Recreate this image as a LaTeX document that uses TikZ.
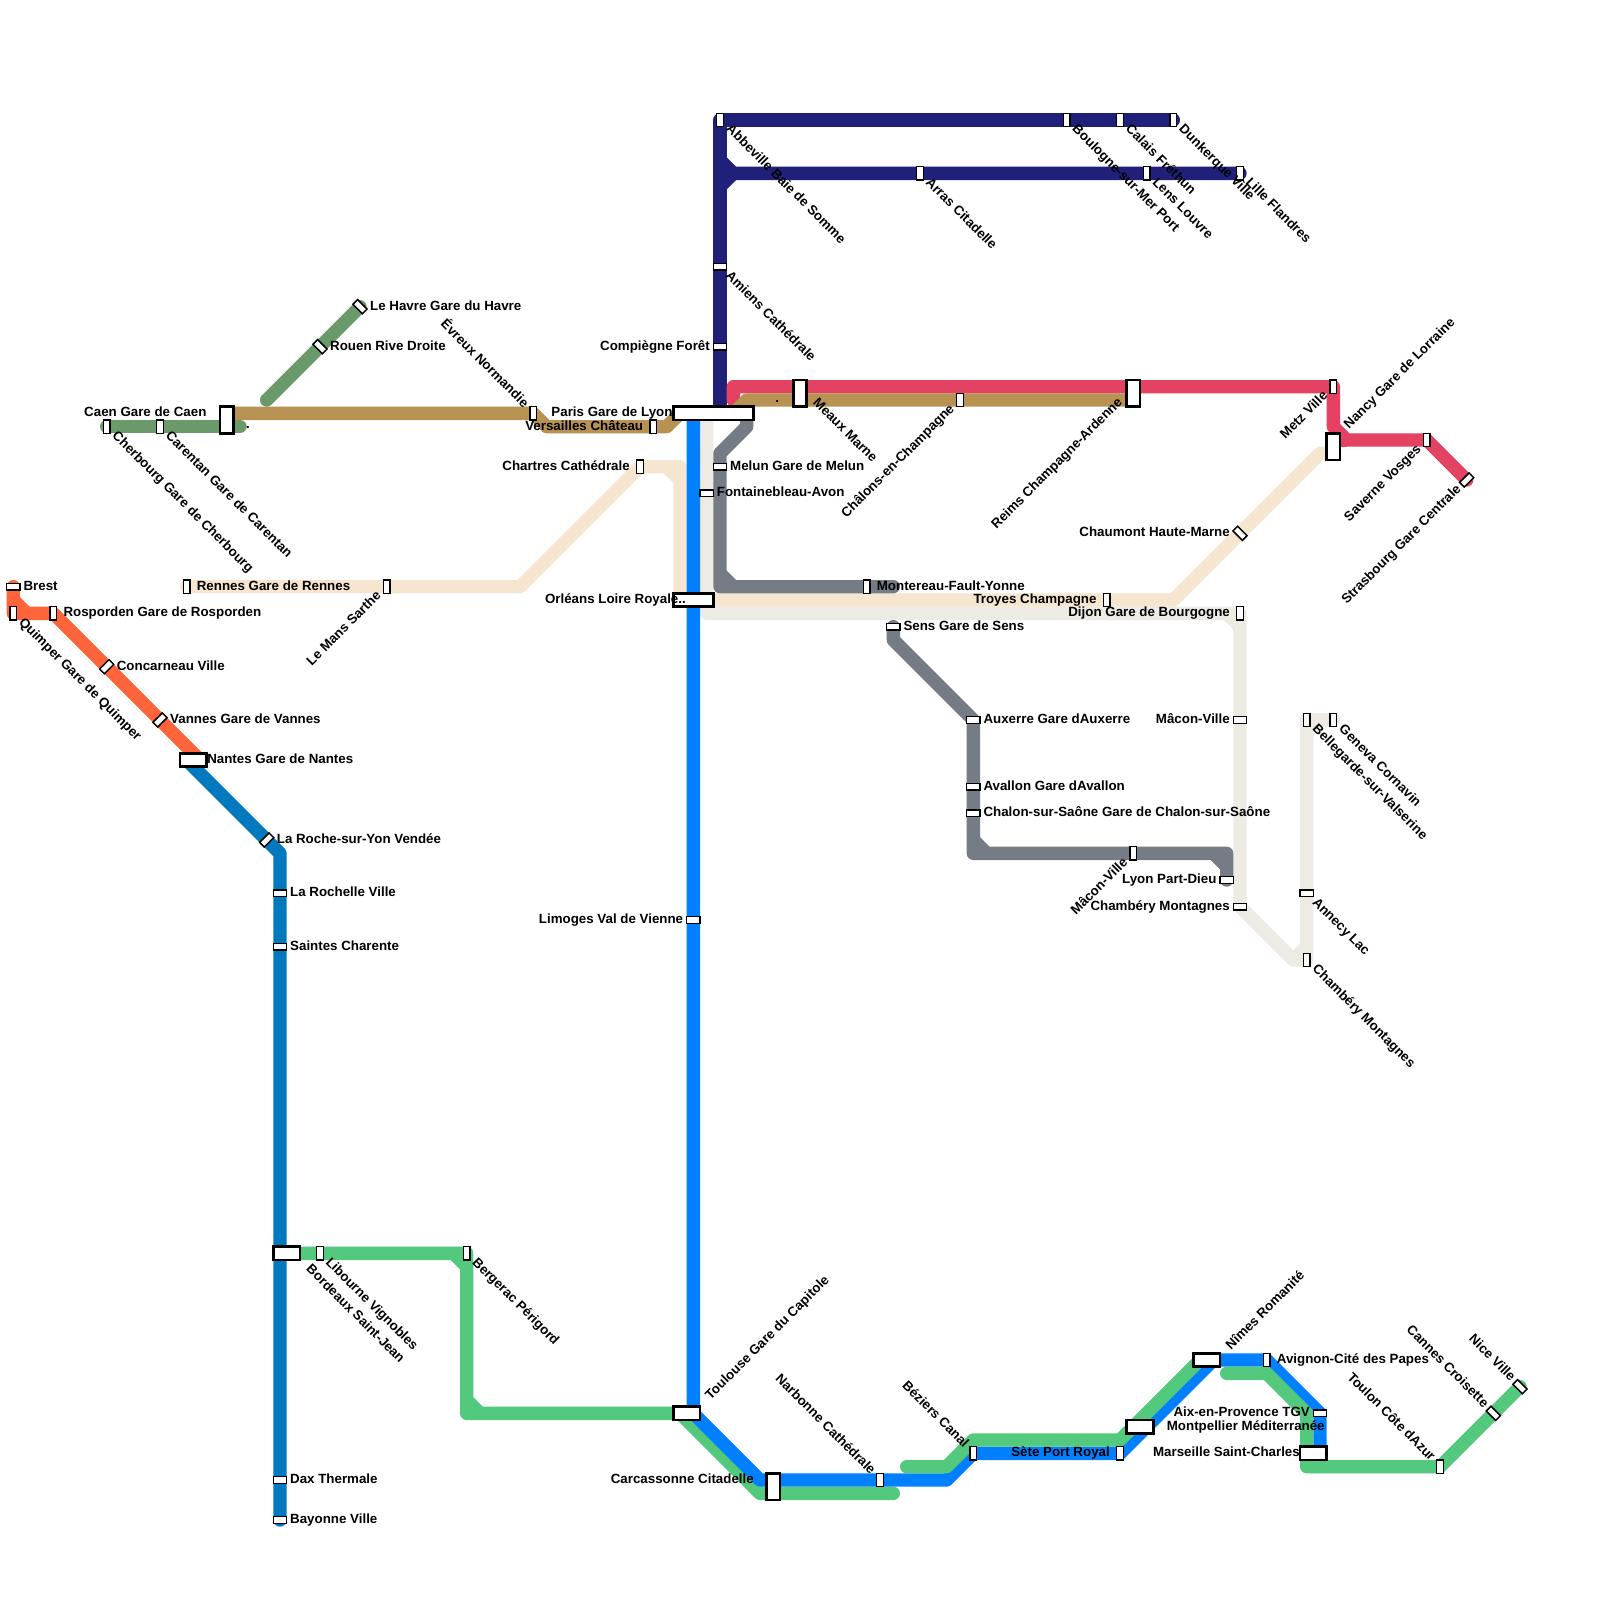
\documentclass[tikz,border=0pt]{standalone}
\usepackage{fontspec}
\setmainfont{Liberation Sans}
\pgfdeclarelayer{lines}
\pgfsetlayers{lines,main}
\definecolor{cnavy}{HTML}{20207A}
\definecolor{cred}{HTML}{E34262}
\definecolor{cbrown}{HTML}{B89253}
\definecolor{cdgreen}{HTML}{6A9A69}
\definecolor{corange}{HTML}{FF643A}
\definecolor{cdblue}{HTML}{0278BE}
\definecolor{cblue}{HTML}{0080FF}
\definecolor{clgreen}{HTML}{52C97C}
\definecolor{cbeige}{HTML}{F6E6CF}
\definecolor{clgrey}{HTML}{EEEBE4}
\definecolor{cgrey}{HTML}{767C86}
\tikzset{
  x=13.3333pt,y=-13.3333pt,
  stbase/.style={draw=black,fill=white,line width=1.5pt,inner sep=0pt,outer sep=0pt},
  stTall/.style={stbase,minimum width=6.67pt,minimum height=13.33pt},
  stWide/.style={stbase,minimum width=13.33pt,minimum height=6.67pt},
  stUp/.style={stWide,rotate=45},
  stDown/.style={stWide,rotate=-45},
  hub/.style={draw=black,fill=white,line width=2.8pt,inner sep=0pt,outer sep=0pt},
  hubTall/.style={hub,minimum width=13.33pt,minimum height=26.67pt},
  hubWide/.style={hub,minimum width=26.67pt,minimum height=13.33pt},
  lab/.style={font=\bfseries\fontsize{13.33pt}{15pt}\selectfont,inner sep=0pt,text height=9.6pt,text depth=2.8pt,text=black},
  track/.style={line width=13.33pt,line cap=round,line join=round},
}
\newcommand\lE[3][.75,0]{\node[lab,anchor=west] (#2-l) at ([shift={(#1)}]#2.center) {#3};}
\newcommand\lW[3][-.75,0]{\node[lab,anchor=east] (#2-l) at ([shift={(#1)}]#2.center) {#3};}
\newcommand\lSE[3][.55,.55]{\node[lab,anchor=west,rotate=-45] (#2-l) at ([shift={(#1)}]#2.center) {#3};}
\newcommand\lNW[3][-.55,-.55]{\node[lab,anchor=east,rotate=-45] (#2-l) at ([shift={(#1)}]#2.center) {#3};}
\newcommand\lSW[3][-.55,.55]{\node[lab,anchor=east,rotate=45] (#2-l) at ([shift={(#1)}]#2.center) {#3};}
\newcommand\lNE[3][.55,-.55]{\node[lab,anchor=west,rotate=45] (#2-l) at ([shift={(#1)}]#2.center) {#3};}
\begin{document}
\begin{tikzpicture}
\useasboundingbox (0,0) rectangle (120,120);
% hubs
\node[hubWide,minimum width=80pt] (paris) at (53.5,31) {};
\node[hubWide,minimum width=40pt] (orleans) at (52,45) {};
\node[hubTall] (caen) at (17,31.5) {};
\node[hubTall] (meaux) at (60,29.5) {};
\node[hubTall] (reims) at (85,29.5) {};
\node[hubTall] (nancy) at (100,33.5) {};
\node[hubTall] (carcassonne) at (58,111.5) {};
\node[hubWide] (nantes) at (14.5,57) {};
\node[hubWide] (bordeaux) at (21.5,94) {};
\node[hubWide] (toulouse) at (51.5,106) {};
\node[hubWide] (nimes) at (90.5,102) {};
\node[hubWide] (montpellier) at (85.5,107) {};
\node[hubWide] (marseille) at (98.5,109) {};
% stations
\foreach \n/\x/\y in {abbeville/54/9,boulogne/80/9,calais/84/9,dunkerque/88/9,arras/69/13,lens/86/13,lille/93/13,
  metz/100/29,saverne/107/33,cherbourg/8/32,carentan/12/32,rennes/14/44,lemans/29/44,quimper/1/46,rosporden/4/46,
  chartres/48/35,versailles/49/32,evreux/40/31,chalons/72/30,troyes/83/45,dijon/93/46,montereau/65/44,maconb/85/64,
  libourne/24/94,bergerac/35/94,beziers/73/109,sete/84/109,narbonne/66/111,avignon/95/102,toulon/108/110,
  bellegarde/98/54,geneva/100/54,chamberyb/98/72}
  \node[stTall] (\n) at (\x,\y) {};
\foreach \n/\x/\y in {amiens/54/20,compiegne/54/26,melun/54/35,fontainebleau/53/37,sens/67/47,auxerre/73/54,avallon/73/59,
  chalon/73/61,brest/1/44,lyon/92/66,larochelle/21/67,saintes/21/71,dax/21/111,bayonne/21/114,limoges/52/69,
  macona/93/54,chamberya/93/68,annecy/98/67,aix/99/106}
  \node[stWide] (\n) at (\x,\y) {};
\foreach \n/\x/\y in {concarneau/8/50,vannes/12/54,laroche/20/63,strasbourg/110/36}
  \node[stUp] (\n) at (\x,\y) {};
\foreach \n/\x/\y in {lehavre/27/23,rouen/24/26,chaumont/93/40,cannes/112/106,nice/114/104}
  \node[stDown] (\n) at (\x,\y) {};
% free ends of tracks
\coordinate (endA) at (18,32);
\coordinate (endB) at (20,30);
\coordinate (endC) at (67,44);
\coordinate (endD) at (67,112);
\coordinate (endE) at (68,110);
\coordinate (endF) at (92,103);
\begin{pgfonlayer}{lines}
\fill[white] (0,0) rectangle (120,120);
% light grey
\draw[track,clgrey] (53,31) -- (53,46) -- (dijon.center) -- (chamberya.center) -- (97,72) -- (chamberyb.center) -- (bellegarde.center) -- (geneva.center);
\draw[track,clgrey,line cap=butt] (97,72) -- (98,71) (98,55) -- (99,54) (53,45) -- (54,46) (92,46) -- (93,47);
% beige
\draw[track,cbeige] (rennes.center) -- (lemans.center) -- (39,44) -- (chartres.center) -- (51,35) -- (51,45) -- (88,45) -- (99,34) -- (100,34);
\draw[track,cbeige,line cap=butt] (50,35) -- (51,36);
% grey
\draw[track,cgrey] (56,31) -- (56,32) -- (54,34) -- (54,44) -- (endC);
\draw[track,cgrey,line cap=butt] (54,43) -- (55,44);
\draw[track,cgrey] (sens.center) -- (67,48) -- (auxerre.center) -- (73,64) -- (92,64) -- (lyon.center);
\draw[track,cgrey,line cap=butt] (73,63) -- (74,64) (91,64) -- (92,65);
% dark green
\draw[track,cdgreen] (cherbourg.center) -- (endA);
\draw[track,cdgreen] (lehavre.center) -- (endB);
% brown
\draw[track,cbrown,line cap=butt] (17,31) -- (40,31) -- (41,32) -- (50,32) -- (51,31) -- (55,31);
% navy
\draw[track,cnavy] (dunkerque.center) -- (abbeville.center) -- (54,31);
\draw[track,cnavy] (lille.center) -- (55,13) -- (54,12);
\draw[track,cnavy] (55,13) -- (54,14);
% red, then the brown that covers its foot
\draw[track,cred] (55,30) -- (55,29) -- (100,29) -- (100,32) -- (101,33) -- (saverne.center) -- (strasbourg.center);
\draw[track,cred,line cap=butt] (100,33) -- (101,33);
\draw[track,cbrown,line cap=butt] (54.5,31) -- (55,31) -- (56,30) -- (85,30);
% others
\draw[track,corange] (brest.center) -- (quimper.center) -- (rosporden.center) -- (15,57);
\draw[track,corange,line cap=butt] (1,45) -- (2,46);
\draw[track,cdblue] (14,57) -- (laroche.center) -- (21,64) -- (bayonne.center);
\draw[track,clgreen] (22,94) -- (bergerac.center) -- (35,106) -- (51,106) -- (57,112) -- (endD);
\draw[track,clgreen,line cap=butt] (34,94) -- (35,95) (35,105) -- (36,106);
\draw[track,cblue] (52,31) -- (52,106) -- (57,111) -- (71,111) -- (73,109) -- (84,109) -- (91,102) -- (95,102) -- (99,106) -- (99,109);
\draw[track,clgreen] (endE) -- (71,110) -- (73,108) -- (84,108) -- (90,102);
\draw[track,clgreen] (endF) -- (95,103) -- (98,106) -- (98,110) -- (toulon.center) -- (nice.center);
\draw[track,clgreen,line cap=butt] (98,109) -- (99,110);
\end{pgfonlayer}
% labels
\lSE[.6,.55]{abbeville}{Abbeville Baie de Somme}
\lSE{boulogne}{Boulogne-sur-Mer Port}
\lSE{calais}{Calais Fréthun}
\lSE{dunkerque}{Dunkerque Ville}
\lSE{arras}{Arras Citadelle}
\lSE{lens}{Lens Louvre}
\lSE{lille}{Lille Flandres}
\lSE{amiens}{Amiens Cathédrale}
\lW{compiegne}{Compiègne Forêt}
\lSE[1.1,.55]{meaux}{Meaux Marne}
\lSW{chalons}{Châlons-en-Champagne}
\lSW[-.95,.55]{reims}{Reims Champagne-Ardenne}
\lSW{metz}{Metz Ville}
\lNE[1,-1.45]{nancy}{Nancy Gare de Lorraine}
\lSW{saverne}{Saverne Vosges}
\lSW{strasbourg}{Strasbourg Gare Centrale}
\lW{chaumont}{Chaumont Haute-Marne}
\lW{troyes}{Troyes Champagne}
\lW{dijon}{Dijon Gare de Bourgogne}
\lW[-3.05,0]{paris}{Paris Gare de Lyon}
\lW{versailles}{Versailles Château}
\lNW{evreux}{Évreux Normandie}
\lW[-1.5,-.5]{caen}{Caen Gare de Caen}
\lSE{cherbourg}{Cherbourg Gare de Cherbourg}
\lSE{carentan}{Carentan Gare de Carentan}
\lE{lehavre}{Le Havre Gare du Havre}
\lE{rouen}{Rouen Rive Droite}
\lE{brest}{Brest}
\lE{rosporden}{Rosporden Gare de Rosporden}
\lSE{quimper}{Quimper Gare de Quimper}
\lE{concarneau}{Concarneau Ville}
\lE{vannes}{Vannes Gare de Vannes}
\lE[1.03,0]{nantes}{Nantes Gare de Nantes}
\lE{rennes}{Rennes Gare de Rennes}
\lSW{lemans}{Le Mans Sarthe}
\lW{chartres}{Chartres Cathédrale}
\lW[-.55,0]{orleans}{Orléans Loire Royale..}
\lE{melun}{Melun Gare de Melun}
\lE{fontainebleau}{Fontainebleau-Avon}
\lE{montereau}{Montereau-Fault-Yonne}
\lE{sens}{Sens Gare de Sens}
\lE{auxerre}{Auxerre Gare dAuxerre}
\lE{avallon}{Avallon Gare dAvallon}
\lE{chalon}{Chalon-sur-Saône Gare de Chalon-sur-Saône}
\lSW{maconb}{Mâcon-Ville}
\lW{lyon}{Lyon Part-Dieu}
\lW{macona}{Mâcon-Ville}
\lW{chamberya}{Chambéry Montagnes}
\lSE{geneva}{Geneva Cornavin}
\lSE{bellegarde}{Bellegarde-sur-Valserine}
\lSE{annecy}{Annecy Lac}
\lSE{chamberyb}{Chambéry Montagnes}
\lE{laroche}{La Roche-sur-Yon Vendée}
\lE{larochelle}{La Rochelle Ville}
\lE{saintes}{Saintes Charente}
\lE{dax}{Dax Thermale}
\lE{bayonne}{Bayonne Ville}
\lSE[1.6,1.05]{bordeaux}{Bordeaux Saint-Jean}
\lSE{libourne}{Libourne Vignobles}
\lSE{bergerac}{Bergerac Périgord}
\lW{limoges}{Limoges Val de Vienne}
\lNE[1.6,-1.15]{toulouse}{Toulouse Gare du Capitole}
\lW[-1.45,-.5]{carcassonne}{Carcassonne Citadelle}
\lNW{narbonne}{Narbonne Cathédrale}
\lNW{beziers}{Béziers Canal}
\lW{sete}{Sète Port Royal}
\lE[2,0]{montpellier}{Montpellier Méditerranée}
\lNE[1.65,-.9]{nimes}{Nîmes Romanité}
\lE{avignon}{Avignon-Cité des Papes}
\lW{aix}{Aix-en-Provence TGV}
\lW[-1,0]{marseille}{Marseille Saint-Charles}
\lNW{toulon}{Toulon Côte dAzur}
\lNW{cannes}{Cannes Croisette}
\lNW{nice}{Nice Ville}
\node[lab] (dotA) at (18.6,31.9) {.};
\node[lab] (dotB) at (58.3,29.9) {.};
\end{tikzpicture}
\end{document}
